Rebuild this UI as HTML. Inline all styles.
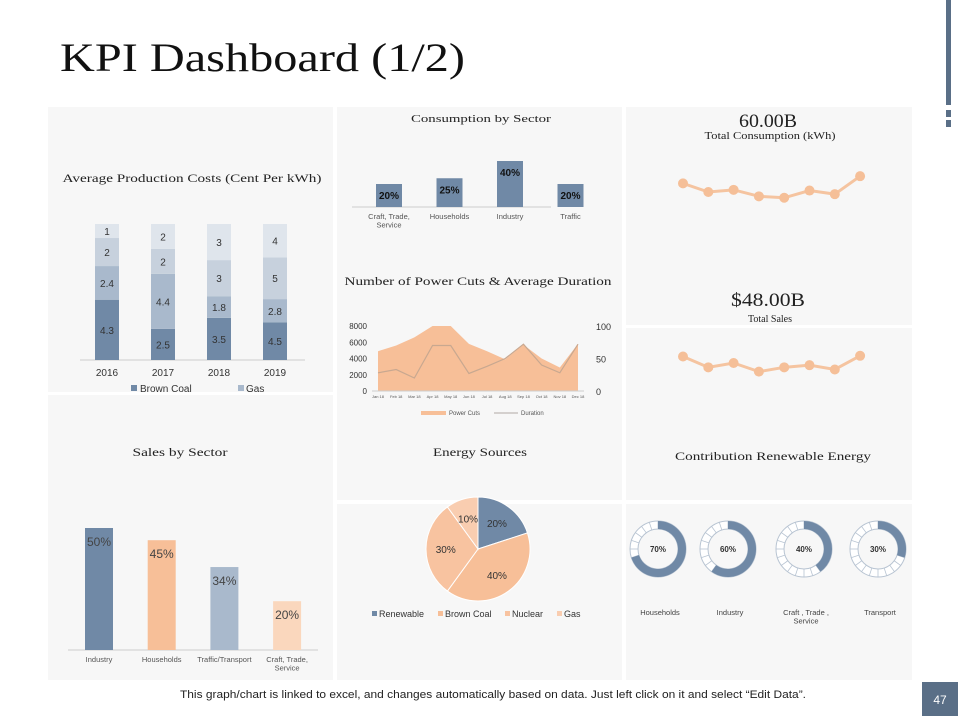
<!DOCTYPE html>
<html><head><meta charset="utf-8">
<style>
body{margin:0;width:960px;height:720px;background:#fff;overflow:hidden;font-family:"Liberation Sans",sans-serif;}
svg{position:absolute;left:0;top:0}
.serif{font-family:"Liberation Serif",serif}
</style></head>
<body>
<svg width="960" height="720" viewBox="0 0 960 720">
<rect x="946" y="0" width="5" height="105" fill="#5a6f87"/>
<rect x="946" y="110" width="5" height="7" fill="#5a6f87"/>
<rect x="946" y="120" width="5" height="7" fill="#5a6f87"/>
<text x="60" y="71" class="serif" font-size="40" fill="#111" textLength="405" lengthAdjust="spacingAndGlyphs">KPI Dashboard (1/2)</text>
<g fill="#f7f7f7">
<rect x="48" y="107" width="285" height="285"/>
<rect x="48" y="395" width="285" height="285"/>
<rect x="337" y="107" width="285" height="393"/>
<rect x="337" y="504" width="285" height="176"/>
<rect x="626" y="107" width="286" height="218"/>
<rect x="626" y="328" width="286" height="172"/>
<rect x="626" y="504" width="286" height="176"/>
</g>
<g class="serif" fill="#222" text-anchor="middle">
<text x="192" y="182" font-size="12" textLength="259" lengthAdjust="spacingAndGlyphs">Average Production Costs (Cent Per kWh)</text>
<text x="481" y="122" font-size="11" textLength="140" lengthAdjust="spacingAndGlyphs">Consumption by Sector</text>
<text x="478" y="285" font-size="12" textLength="267" lengthAdjust="spacingAndGlyphs">Number of Power Cuts &amp; Average Duration</text>
<text x="180" y="456" font-size="12" textLength="95" lengthAdjust="spacingAndGlyphs">Sales by Sector</text>
<text x="480" y="456" font-size="12" textLength="94" lengthAdjust="spacingAndGlyphs">Energy Sources</text>
<text x="773" y="460" font-size="12" textLength="196" lengthAdjust="spacingAndGlyphs">Contribution Renewable Energy</text>
<text x="768" y="127" font-size="19" textLength="58" lengthAdjust="spacingAndGlyphs">60.00B</text>
<text x="770" y="139" font-size="10" textLength="131" lengthAdjust="spacingAndGlyphs">Total Consumption (kWh)</text>
<text x="768" y="306" font-size="19" textLength="74" lengthAdjust="spacingAndGlyphs">$48.00B</text>
<text x="770" y="322" font-size="10">Total Sales</text>
</g>
<g id="charts"></g>
<text x="493" y="698" font-size="11" text-anchor="middle" fill="#222" textLength="626" lengthAdjust="spacingAndGlyphs">This graph/chart is linked to excel, and changes automatically based on data. Just left click on it and select “Edit Data”.</text>
<rect x="922" y="682" width="36" height="34" fill="#5a6f87"/>
<text x="940" y="704" font-size="12" fill="#fff" text-anchor="middle">47</text>
</svg>
<script>
// ---- data ----
const costYears=["2016","2017","2018","2019"];
const brownCoal=[4.3,2.5,3.5,4.5];
const gas=[2.4,4.4,1.8,2.8];
const costS3=[2,2,3,5];
const costS4=[1,2,3,4];
const consSectors=["Craft, Trade,|Service","Households","Industry","Traffic"];
const consValues=[20,25,40,20];
const months=["Jan 18","Feb 18","Mar 18","Apr 18","May 18","Jun 18","Jul 18","Aug 18","Sep 18","Oct 18","Nov 18","Dec 18"];
const powerCuts=[4900,5600,6600,8000,8000,5800,4900,3900,5700,4000,2900,5800];
const duration=[28,33,20,70,70,27,38,50,72,40,28,72];
const cutsTicks=[0,2000,4000,6000,8000];
const durTicks=[0,50,100];
const salesSectors=["Industry","Households","Traffic/Transport","Craft, Trade,|Service"];
const salesValues=[50,45,34,20];
const pieLabels=["Renewable","Brown Coal","Nuclear","Gas"];
const pieValues=[20,40,30,10];
const consumptionTrend=[6.2,5.0,5.3,4.4,4.2,5.2,4.7,7.2];
const salesTrend=[5.9,4.4,5.0,3.8,4.4,4.7,4.1,6.0];
const renewLabels=["Households","Industry","Craft , Trade ,|Service","Transport"];
const renewValues=[70,60,40,30];

const NS="http://www.w3.org/2000/svg";
const root=document.getElementById('charts');
function mk(tag,attrs,parent,txt){const e=document.createElementNS(NS,tag);for(const k in attrs)e.setAttribute(k,attrs[k]);if(txt!==undefined)e.textContent=txt;(parent||root).appendChild(e);return e;}
function lines(t,x,y,size,fill,parent,name){const parts=t.split('|');parts.forEach((p,i)=>{const e=mk('text',{x:x,y:y+i*size*1.1,'font-size':size,fill:fill,'text-anchor':'middle'},parent,p);

});}

// stacked 100% bars
(function(){
const base=360,top=224,H=base-top,x0=107,dx=56,w=24;
const series=[brownCoal,gas,costS3,costS4];const cols=["#7089a6","#a9b9cc","#c7d1dd","#dfe5ec"];
mk('line',{x1:80,y1:base,x2:305,y2:base,stroke:'#ccc'});
costYears.forEach((yr,i)=>{
 const tot=series.reduce((s,a)=>s+a[i],0);let y=base;
 series.forEach((a,si)=>{const h=a[i]/tot*H;y-=h;
  const r=mk('rect',{x:x0+i*dx-w/2,y:y,width:w,height:h,fill:cols[si]});
  
  
  const t=mk('text',{x:x0+i*dx,y:y+h/2+4,'font-size':10,fill:'#333','text-anchor':'middle'},root,String(a[i]));
  
  
 });
 const l=mk('text',{x:x0+i*dx,y:376,'font-size':10,fill:'#333','text-anchor':'middle'},root,yr);
 
 
});
mk('rect',{x:131,y:385,width:6,height:6,fill:'#7089a6'});
const l1=mk('text',{x:140,y:392,'font-size':10,fill:'#333'},root,'Brown Coal');


mk('rect',{x:238,y:385,width:6,height:6,fill:'#a9b9cc'});
const l2=mk('text',{x:246,y:392,'font-size':10,fill:'#333'},root,'Gas');


})();

// consumption by sector
(function(){
const base=207,sc=46/40,x0=389,dx=60.5,w=26;
mk('line',{x1:352,y1:base,x2:551,y2:base,stroke:'#ccc'});
consSectors.forEach((s,i)=>{const h=consValues[i]*sc;
 const r=mk('rect',{x:x0+i*dx-w/2,y:base-h,width:w,height:h,fill:'#7089a6'});
 
 
 const t=mk('text',{x:x0+i*dx,y:base-h+15,'font-size':10,'font-weight':'bold',fill:'#111','text-anchor':'middle'},root,consValues[i]+'%');
 
 
 lines(s,x0+i*dx,219,7.5,'#555',root,'consumption-category');
});
})();

// power cuts area + line
(function(){
const xl=378,xr=578,yb=391,yt=326;
const xs=i=>xl+i*(xr-xl)/(months.length-1);
const yL=v=>yb-Math.min(v,8000)/8000*(yb-yt);
const yR=v=>yb-v/100*(yb-yt);
let d='M'+xs(0)+','+yb;powerCuts.forEach((v,i)=>d+=' L'+xs(i)+','+yL(v));d+=' L'+xs(months.length-1)+','+yb+' Z';
const a=mk('path',{d:d,fill:'#f7bf98'});


const p=mk('polyline',{points:duration.map((v,i)=>xs(i)+','+yR(v)).join(' '),fill:'none',stroke:'#c8a890','stroke-width':1.2});


mk('line',{x1:372,y1:yb,x2:584,y2:yb,stroke:'#ccc'});
cutsTicks.forEach(v=>{const t=mk('text',{x:367,y:yL(v)+3,'font-size':8,fill:'#333','text-anchor':'end'},root,String(v));
 
 });
durTicks.forEach(v=>{const t=mk('text',{x:596,y:yR(v)+4,'font-size':9,fill:'#333'},root,String(v));
 
 });
months.forEach((m,i)=>{const t=mk('text',{x:xs(i),y:398,'font-size':4,fill:'#555','text-anchor':'middle'},root,m);
 
 });
mk('rect',{x:421,y:411,width:25,height:4,fill:'#f7bf98'});
const l1=mk('text',{x:449,y:415,'font-size':6,fill:'#555'},root,'Power Cuts');


mk('line',{x1:494,y1:413,x2:518,y2:413,stroke:'#b0a8a4'});
const l2=mk('text',{x:521,y:415,'font-size':6,fill:'#555'},root,'Duration');


})();

// sales by sector
(function(){
const base=650,sc=122/50,x0=99,dx=62.7,w=28;const cols=["#7089a6","#f7bf98","#a9b9cc","#fad7bd"];
mk('line',{x1:68,y1:base,x2:318,y2:base,stroke:'#ccc'});
salesSectors.forEach((s,i)=>{const h=salesValues[i]*sc;
 const r=mk('rect',{x:x0+i*dx-w/2,y:base-h,width:w,height:h,fill:cols[i]});
 
 
 const t=mk('text',{x:x0+i*dx,y:base-h+18,'font-size':12,fill:'#444','text-anchor':'middle'},root,salesValues[i]+'%');
 
 
 lines(s,x0+i*dx,662,7.5,'#555',root,'sales-category');
});
})();

// pie
(function(){
const cx=478,cy=549,r=52;const cols=["#7089a6","#f7bf98","#f8c3a0","#f9cdb0"];
const tot=pieValues.reduce((a,b)=>a+b,0);let ang=-Math.PI/2;
pieValues.forEach((v,i)=>{const a2=ang+v/tot*2*Math.PI;
 const x1=cx+r*Math.cos(ang),y1=cy+r*Math.sin(ang),x2=cx+r*Math.cos(a2),y2=cy+r*Math.sin(a2);
 const s=mk('path',{d:`M${cx},${cy} L${x1},${y1} A${r},${r} 0 ${a2-ang>Math.PI?1:0} 1 ${x2},${y2} Z`,fill:cols[i],stroke:'#fff','stroke-width':1});
 
 
 const m=(ang+a2)/2,lr=r*0.62;
 const t=mk('text',{x:cx+lr*Math.cos(m),y:cy+lr*Math.sin(m)+4,'font-size':10,fill:'#333','text-anchor':'middle'},root,v+'%');
 
 
 ang=a2;});
const lx=[372,438,505,557];
pieLabels.forEach((l,i)=>{mk('rect',{x:lx[i],y:611,width:5,height:5,fill:cols[i]});
 const t=mk('text',{x:lx[i]+7,y:617,'font-size':9,fill:'#333'},root,l);
 
 });
})();

// sparklines
function spark(vals,yb,name){
 const x0=683,dx=25.3,sc=7.2;
 const pts=vals.map((v,i)=>[x0+i*dx,yb-v*sc]);
 const p=mk('polyline',{points:pts.map(p=>p.join(',')).join(' '),fill:'none',stroke:'#f5c4a0','stroke-width':3});
 
 
 pts.forEach(q=>{const c=mk('circle',{cx:q[0],cy:q[1],r:5,fill:'#f5bf98'});
  
  });
}
spark(consumptionTrend,228,'consumption-sparkline');
spark(salesTrend,399,'sales-sparkline');

// donuts
(function(){
const cxs=[658,728,804,878],cy=549,ro=28,ri=20;
renewValues.forEach((v,i)=>{const cx=cxs[i];
 mk('circle',{cx:cx,cy:cy,r:(ro+ri)/2,fill:'none',stroke:'#b8c4d2','stroke-width':ro-ri+1});
 mk('circle',{cx:cx,cy:cy,r:(ro+ri)/2,fill:'none',stroke:'#fff','stroke-width':ro-ri-1});
 for(let k=0;k<20;k++){const a=k/20*2*Math.PI;mk('line',{x1:cx+ri*Math.cos(a),y1:cy+ri*Math.sin(a),x2:cx+ro*Math.cos(a),y2:cy+ro*Math.sin(a),stroke:'#b8c4d2','stroke-width':0.8});}
 const a0=-Math.PI/2,a1=a0+v/100*2*Math.PI;
 const P=(r,a)=>(cx+r*Math.cos(a))+','+(cy+r*Math.sin(a));
 const arc=mk('path',{d:`M${P(ro,a0)} A${ro},${ro} 0 ${v>50?1:0} 1 ${P(ro,a1)} L${P(ri,a1)} A${ri},${ri} 0 ${v>50?1:0} 0 ${P(ri,a0)} Z`,fill:'#7089a6'});
 
 
 const t=mk('text',{x:cx,y:cy+3,'font-size':8,'font-weight':'bold',fill:'#333','text-anchor':'middle'},root,v+'%');
 
 
 lines(renewLabels[i],cx+2,615,7.5,'#444',root,'renewable-label');
});
})();
</script>
</body></html>
